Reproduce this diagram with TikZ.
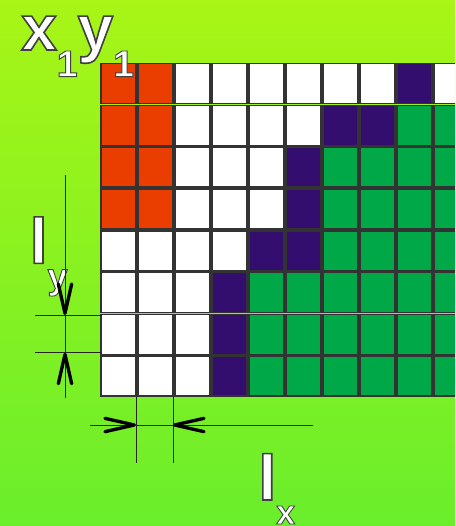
\documentclass[tikz,border=0pt]{standalone}
\usepackage{fontspec}
\setmainfont{Liberation Sans}
\newfontfamily\outlinefont[FakeBold=2.5]{Liberation Sans Bold}
\usetikzlibrary{arrows.meta}
\definecolor{bgtop}{HTML}{A8F516}
\definecolor{bgbot}{HTML}{6AEE2C}
\definecolor{cellR}{HTML}{EA3D00}
\definecolor{cellW}{HTML}{FFFFFF}
\definecolor{cellP}{HTML}{330E6E}
\definecolor{cellG}{HTML}{00A848}
\newcommand{\darkstroke}{\special{pdf:literal direct 0.25 0.25 0.25 RG}}
\tikzset{
  cell/.style={draw=black!80, line width=1.1pt},
  dimline/.style={draw=black!85, line width=0.6pt},
  dimarrow/.style={dimline, -{Straight Barb[length=22pt,width=10pt,line width=2.5pt,round,color=black]}},
  lbl/.style={text=white, inner sep=0pt, anchor=base west, font=\outlinefont},
}

\begin{document}
\begin{tikzpicture}[x=0.75pt,y=-0.75pt]
\useasboundingbox (0,0) rectangle (455,526);
\shade[top color=bgtop, bottom color=bgbot] (0,0) rectangle (455,526);

% grid of cells
\begin{scope}
\clip (0,0) rectangle (455,526);
\foreach \cols [count=\j from 0] in {{R,R,W,W,W,W,W,W,P,W},{R,R,W,W,W,W,P,P,G,G},{R,R,W,W,W,P,G,G,G,G},{R,R,W,W,W,P,G,G,G,G},{W,W,W,W,P,P,G,G,G,G},{W,W,W,P,G,G,G,G,G,G},{W,W,W,P,G,G,G,G,G,G},{W,W,W,P,G,G,G,G,G,G}}
  \foreach \c [count=\i from 0] in \cols
    \draw[cell, fill=cell\c] (100+37*\i+1, 62.6+41.8*\j+1) rectangle ++(35,40);
\end{scope}

% labels
\node[lbl] (xy) at (21,50) {\darkstroke\fontsize{48}{48}\selectfont x\raisebox{-20pt}{\fontsize{28}{28}\selectfont 1}y\raisebox{-20pt}{\fontsize{28}{28}\selectfont 1}};
\node[lbl] (ly) at (29.5,263.3) {\darkstroke\fontsize{48}{48}\selectfont l\raisebox{-19pt}{\fontsize{27}{27}\selectfont y}};
\node[lbl] (lx) at (258.2,500) {\darkstroke\fontsize{48}{48}\selectfont l\raisebox{-18pt}{\fontsize{25.5}{25.5}\selectfont x}};

% dimension l_y
\coordinate (vtop) at (65,175);
\coordinate (vbot) at (65,398);
\coordinate (ly1) at (65,315);
\coordinate (ly2) at (65,352.7);
\coordinate (ly1l) at (35,315);
\coordinate (ly1r) at (102,315);
\coordinate (ly2l) at (35,352.7);
\coordinate (ly2r) at (102,352.7);
\draw[dimline] (ly1l) -- (ly1r);
\draw[dimline] (ly2l) -- (ly2r);
\draw[dimarrow] (vtop) -- (ly1);
\draw[dimline] (ly1) -- (ly2);
\draw[dimarrow] (vbot) -- (ly2);

% dimension l_x
\coordinate (hleft) at (90,425);
\coordinate (hright) at (313,425);
\coordinate (lx1) at (136,425);
\coordinate (lx2) at (173,425);
\coordinate (lx1t) at (136,397);
\coordinate (lx1b) at (136,463);
\coordinate (lx2t) at (173,397);
\coordinate (lx2b) at (173,463);
\draw[dimline] (lx1t) -- (lx1b);
\draw[dimline] (lx2t) -- (lx2b);
\draw[dimarrow] (hleft) -- (lx1);
\draw[dimline] (lx1) -- (lx2);
\draw[dimarrow] (hright) -- (lx2);
\end{tikzpicture}
\end{document}
